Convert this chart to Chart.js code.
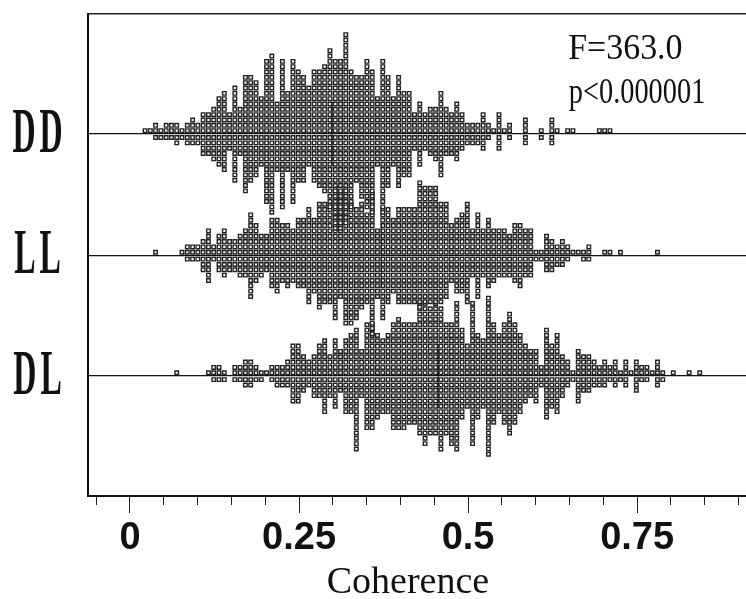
<!DOCTYPE html>
<html>
<head>
  <title>Coherence dot plot</title>
  <script src="https://cdn.jsdelivr.net/npm/chart.js"></script>
  <style>
    html, body { margin: 0; background: #fff; }
    canvas { display: block; }
  </style>
</head>
<body>
  <canvas id="chart" width="746" height="599"></canvas>

  <script>
    var groupNames = ["DD", "LL", "DL"];
    var majorTicks = [0, 0.25, 0.5, 0.75];

    // dots stacked per coherence bin, above and below each group's line
    var ddUp = [1,1,2,1,2,2,2,1,2,3,2,4,4,5,7,8,4,9,5,11,11,10,7,14,15,6,14,8,14,12,11,9,12,12,13,16,14,14,19,12,11,11,14,12,7,14,11,7,11,8,8,4,6,4,5,5,8,5,4,6,4,2,2,2,4,2,1,4,1,2,0,0,3,0,0,1,0,3,1,0,1,1,0,0,0,0,1,1,1];
    var ddDown = [0,0,1,1,1,1,2,1,2,2,2,4,4,5,6,7,3,9,4,11,9,8,6,13,15,7,14,7,13,9,9,6,9,10,11,14,18,18,17,14,9,12,14,15,6,15,10,6,10,8,8,3,6,3,4,5,8,4,4,5,3,2,2,2,3,1,0,3,0,1,0,0,2,0,0,1,0,2];
    var llUp = [0,0,1,0,0,0,0,1,2,2,2,3,5,2,4,5,3,3,4,5,8,6,4,4,7,7,6,6,5,7,7,9,7,10,10,10,13,12,13,10,9,10,8,12,5,9,9,7,9,9,9,9,14,13,13,13,10,10,6,7,8,10,5,8,5,7,5,5,5,4,6,6,5,5,1,1,4,3,2,3,2,1,1,1,2,0,0,1,1,0,1,0,0,0,0,0,0,1];
    var llDown = [0,0,0,0,0,0,0,0,1,1,1,3,5,1,3,4,3,3,4,4,8,5,4,3,6,7,5,6,5,6,6,9,7,10,9,9,12,8,13,13,12,10,9,15,8,12,9,7,9,9,9,9,10,9,9,9,9,8,5,7,7,9,4,8,4,6,5,4,4,4,5,6,4,4,1,1,3,3,2,2,1,0,0,1,1];
    var dlUp = [0,0,0,0,0,0,1,0,0,0,0,0,1,2,2,1,0,2,2,3,3,2,1,1,2,2,2,3,6,6,4,3,4,6,7,4,7,5,7,8,9,5,10,10,8,7,8,10,11,10,10,10,14,14,13,14,13,10,10,14,9,6,14,8,7,15,10,8,10,12,10,8,6,5,5,2,9,6,8,4,3,1,5,4,4,3,2,3,2,3,1,3,1,3,2,2,1,3,1,0,1,0,0,1,0,1];
    var dlDown = [0,0,0,0,0,0,0,0,0,0,0,0,0,1,1,1,0,1,1,2,2,1,1,0,1,2,2,2,5,5,3,2,4,4,7,4,6,3,7,7,14,4,10,10,8,7,7,10,10,10,9,9,11,13,11,11,14,11,13,14,8,6,13,8,6,15,9,7,9,11,9,7,5,4,5,2,8,6,7,4,2,1,5,3,3,2,2,2,1,2,1,2,0,3,1,1,0,2,1];

    var meanCoherence = [0.299, 0.372, 0.456];

    var notes = [
      { text: "F=363.0", x: 0.648, y: 83.6, squeeze: 0.97 },
      { text: "p<0.000001", x: 0.649, y: 75.4, squeeze: 0.81 }
    ];

    var groupRows = [67.8, 45, 22.4];   // where each group's line sits on the row axis
    var rowCount = 90.3;
    var firstBin = 2.85, binsPerUnit = 128;

    function buildDots(up, down, base) {
      var dots = [];
      up.forEach(function (n, k) {
        for (var r = 1; r <= n; r++) dots.push({ x: (k + firstBin) / binsPerUnit, y: base + r - 0.38 });
      });
      down.forEach(function (n, k) {
        for (var r = 1; r <= n; r++) dots.push({ x: (k + firstBin) / binsPerUnit, y: base - r + 0.33 });
      });
      return dots;
    }

    function dotSet(label, up, down, base) {
      return {
        label: label,
        data: buildDots(up, down, base),
        pointStyle: "rect",
        pointRadius: 2.5,
        pointBorderWidth: 1.4,
        pointBorderColor: "#222",
        pointBackgroundColor: "#fff",
        showLine: false
      };
    }

    function meanSet(i) {
      return {
        label: groupNames[i] + " mean",
        data: [{ x: meanCoherence[i], y: groupRows[i] + 6 }, { x: meanCoherence[i], y: groupRows[i] - 6 }],
        showLine: true,
        borderColor: "rgba(0,0,0,0.35)",
        borderWidth: 1,
        pointRadius: 0
      };
    }

    function isMajor(v) {
      return Math.abs(v * 4 - Math.round(v * 4)) < 1e-6;
    }

    // big squeezed group names, stats and the axis name
    var textPlugin = {
      id: "textPlugin",
      afterDraw: function (chart) {
        var ctx = chart.ctx, xs = chart.scales.x, ys = chart.scales.y;
        ctx.save();
        ctx.fillStyle = "#111";
        ctx.textBaseline = "middle";
        groupNames.forEach(function (name, i) {
          ctx.save();
          ctx.translate(39.5, ys.getPixelForValue(groupRows[i]) + 1);
          ctx.scale(0.5, 1);
          ctx.textAlign = "center";
          ctx.font = 'bold 64px "Liberation Serif"';
          ctx.letterSpacing = "8px";
          ctx.fillText(name, 0, 0);
          ctx.restore();
        });
        ctx.textAlign = "left";
        ctx.font = '35px "Liberation Serif"';
        notes.forEach(function (n) {
          ctx.save();
          ctx.translate(xs.getPixelForValue(n.x), ys.getPixelForValue(n.y));
          ctx.scale(n.squeeze, 1);
          ctx.fillText(n.text, 0, 0);
          ctx.restore();
        });
        ctx.textAlign = "center";
        ctx.font = '38px "Liberation Serif"';
        ctx.fillText("Coherence", xs.getPixelForValue(0.411), 583);
        ctx.restore();
      }
    };

    var ctx = document.getElementById("chart").getContext("2d");
    var chart = new Chart(ctx, {
      type: "scatter",
      data: {
        datasets: [
          meanSet(0), meanSet(1), meanSet(2),
          dotSet("DD", ddUp, ddDown, groupRows[0]),
          dotSet("LL", llUp, llDown, groupRows[1]),
          dotSet("DL", dlUp, dlDown, groupRows[2])
        ]
      },
      plugins: [textPlugin],
      options: {
        responsive: false,
        animation: false,
        layout: { autoPadding: false, padding: { top: 14 } },
        plugins: { legend: { display: false }, tooltip: { enabled: false } },
        scales: {
          x: {
            type: "linear",
            min: -0.0621,
            max: 0.911,
            afterFit: function (s) { s.height = 103.5; },
            border: { color: "#111", width: 2 },
            grid: {
              drawOnChartArea: false,
              tickLength: 20,
              tickColor: "#222",
              tickWidth: 1,
              tickBorderDash: function (c) {
                return isMajor(c.tick.value) ? [16, 40] : [8, 40];
              }
            },
            ticks: {
              stepSize: 0.05,
              includeBounds: false,
              autoSkip: false,
              maxRotation: 0,
              padding: 0,
              color: "#111",
              font: { family: "Liberation Sans", weight: "bold", size: 38 },
              callback: function (v) {
                return majorTicks.some(function (m) { return Math.abs(m - v) < 1e-6; }) ? String(Math.round(v * 100) / 100) : "";
              }
            }
          },
          top: {
            type: "linear",
            position: "top",
            min: 0,
            max: 1,
            afterFit: function (s) { s.height = 0; },
            border: { color: "#222", width: 1.5 },
            grid: { display: false },
            ticks: { display: false }
          },
          y: {
            type: "linear",
            min: 0,
            max: rowCount,
            afterFit: function (s) { s.width = 88; },
            afterBuildTicks: function (s) {
              s.ticks = groupRows.map(function (r) { return { value: r }; });
            },
            border: { color: "#111", width: 2 },
            grid: { color: "#111", lineWidth: 1.3, drawTicks: false },
            ticks: { display: false }
          }
        }
      }
    });
  </script>
</body>
</html>
